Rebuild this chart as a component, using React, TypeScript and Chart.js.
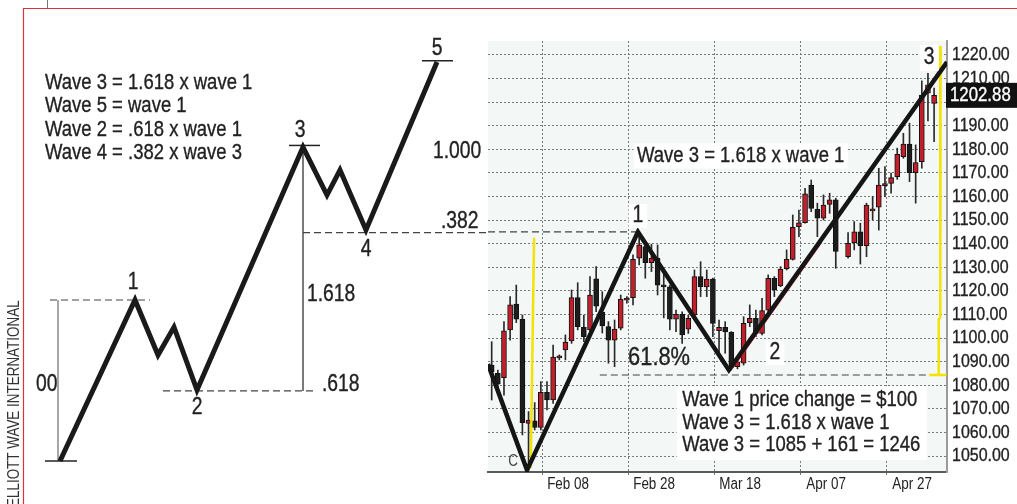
import React, { useEffect, useRef } from 'react';
import { Chart, registerables } from 'chart.js';

Chart.register(...registerables);

const SANS = "'Liberation Sans', Arial, Helvetica, sans-serif";
const SQUEEZE = 0.84; // condensed look of the original lettering

// ---------------- Left: idealised five-wave impulse (wave 1 = 100) ----------------
const idealTime = [60, 135, 158, 174, 197, 303, 327, 340, 366, 437];
const idealLevel = [0, 100, 65.8, 83.2, 44.1, 195, 165.2, 180.7, 143.5, 247.8];
const idealNames = ['', '1', '', '', '2', '3', '', '', '4', '5'];
const ratioRules = [
  'Wave 3 = 1.618 x wave 1',
  'Wave 5 = wave 1',
  'Wave 2 = .618 x wave 1',
  'Wave 4 = .382 x wave 3',
];
const ratioMarks = ['1.618', '.618', '00', '1.000', '.382'];

// ---------------- Right: daily candles (index = trading day) ----------------
const openPrices = [
  1088.6, 1085.1, 1083.3, 1103.5, 1114.4, 1108, 1063.9, 1065, 1062.2, 1077.1,
  1073.8, 1091.6, 1095, 1098.8, 1117.2, 1104.6, 1103.5, 1125.1, 1111.1, 1104.9,
  1099.2, 1104.2, 1116.1, 1117.2, 1133.9, 1138.8, 1132, 1133.9, 1122.5, 1121.8,
  1108, 1110.1, 1103.8, 1109.8, 1126.1, 1121.7, 1125, 1103.2, 1104.6, 1102.5,
  1087.9, 1089.4, 1106.6, 1108.4, 1102, 1111.9, 1125.4, 1122.1, 1129.4, 1133.4,
  1147.2, 1148.9, 1164.9, 1154.6, 1150.8, 1156.7, 1158.6, null, 1134.5, 1140.5,
  1145.1, 1139.2, 1153.9, 1155.5, 1164.6, 1165.6, 1168.4, 1176.9, 1182.2, 1170.1,
  1174.8, 1203.8, 1199.5,
];
const highPrices = [
  1098.5, 1086.5, 1107, 1117.6, 1122.5, 1109.8, 1068.9, 1072.7, 1081.6, 1081.6,
  1097.1, 1092.9, 1101.4, 1120.4, 1123.5, 1109.8, 1126.1, 1130.3, 1119.7, 1107,
  1107.7, 1118.3, 1117.6, 1135.3, 1145, 1140.9, 1139.8, 1139.5, 1127.6, 1122.5,
  1111.9, 1111.2, 1109.8, 1128.9, 1132.4, 1128.9, 1125.5, 1107.7, 1107, 1102.8,
  1091.6, 1109.1, 1114.1, 1111.9, 1116.9, 1126.8, 1126.1, 1130.3, 1137.4, 1152.2,
  1154.3, 1163.5, 1167, 1157.2, 1160.7, 1161.4, 1159.3, null, 1144.7, 1149.4,
  1148.7, 1157.2, 1160, 1172, 1172.7, 1169.9, 1180.5, 1186.8, 1191.1, 1181.9,
  1209, 1212.2, 1206,
];
const lowPrices = [
  1073.8, 1076.7, 1075.9, 1099.2, 1106.6, 1059, 1044.5, 1061.1, 1061.1, 1069.6,
  1072.4, 1090.8, 1090.8, 1097.8, 1103.5, 1098.5, 1102.8, 1111.2, 1102.2, 1089.4,
  1087.9, 1103.5, 1114.8, 1114.1, 1131, 1125.4, 1128.2, 1118.3, 1108.6, 1103.5,
  1102.8, 1097.8, 1102, 1108.6, 1117.6, 1117.6, 1100.6, 1093.6, 1093.6, 1086.5,
  1087, 1088.6, 1104.9, 1100.6, 1101.4, 1110.6, 1117.6, 1121.8, 1128.9, 1133.1,
  1143, 1148.7, 1153.6, 1143, 1150.1, 1152.9, 1129.6, null, 1133.9, 1137.4,
  1131.4, 1134.5, 1150.1, 1145.8, 1160, 1161.4, 1167.3, 1176.2, 1166.3, 1157.2,
  1172, 1192, 1183.3,
];
const closePrices = [
  1085.8, 1080.5, 1103.1, 1114.1, 1108, 1064.2, 1065.3, 1062.2, 1077.1, 1073.8,
  1092, 1092.5, 1098.3, 1117.2, 1104.9, 1100.6, 1118.3, 1113.6, 1105.2, 1099.2,
  1103.8, 1116.6, 1116.9, 1133.4, 1139.5, 1132, 1133.9, 1122.5, 1121.7, 1108,
  1110.1, 1101.4, 1108.4, 1126.1, 1121.8, 1125, 1106.3, 1104.6, 1102.6, 1087.9,
  1090, 1106.3, 1108.4, 1102, 1111.7, 1125.4, 1120.4, 1129.3, 1133.4, 1147,
  1148.9, 1161.1, 1155, 1150.8, 1156.4, 1158.6, 1136.7, null, 1140.2, 1145.1,
  1139.2, 1156.4, 1154.7, 1164.9, 1165.3, 1168, 1177.9, 1182.2, 1170.1, 1174.4,
  1203, 1207.3, 1202.88,
];
const lastPrice = 1202.88;

// wave count drawn on the candles: start, C, 1, 2, end of 3
const waveDay = [-0.6, 5.75, 23.8, 38.6, 74.1];
const wavePrice = [1089, 1044.1, 1145, 1086.5, 1217];
// thin red trend line under wave 3
const trendDay = [39.2, 53.5];
const trendPrice = [1087.3, 1140];
// yellow measuring lines
const yellowLeftDay = [6.9, 6.35];
const yellowLeftPrice = [1142.5, 1045];
const yellowRightDay = [73.05, 73.0, 72.75, 72.75];
const yellowRightPrice = [1223.8, 1109, 1108, 1084.4];
const yellowFootDay = [71.2, 74.0];
const wave1Top = 1145;
const retraceLevel = 1084.4;
const retraceFromDay = 17.6;
const retraceToDay = 71.2;

const xGridDays = [8.2, 22.2, 36.2, 50.2, 64.2];
const xTickLabels = ['Feb 08', 'Feb 28', 'Mar 18', 'Apr 07', 'Apr 27'];
const priceTicks = [1050, 1060, 1070, 1080, 1090, 1100, 1110, 1120, 1130, 1140, 1150, 1160, 1170, 1180, 1190, 1200, 1210, 1220];

const summaryLines = ['Wave 1 price change = $100', 'Wave 3 = 1.618 x wave 1', 'Wave 3 = 1085 + 161 = 1246'];
const headline = 'Wave 3 = 1.618 x wave 1';

const RED = '#c01f2b';

function text(ctx: CanvasRenderingContext2D, s: string, x: number, y: number, size: number, o: any = {}) {
  ctx.save();
  ctx.font = `${size}px ${SANS}`;
  ctx.textAlign = 'left';
  ctx.textBaseline = 'middle';
  const w = ctx.measureText(s).width * SQUEEZE;
  const left = o.align === 'center' ? x - w / 2 : o.align === 'right' ? x - w : x;
  if (o.box) {
    ctx.fillStyle = '#ffffff';
    ctx.fillRect(left - o.padX, y - o.boxH / 2, w + 2 * o.padX, o.boxH);
  }
  const color = o.color || '#222';
  ctx.fillStyle = color;
  ctx.translate(left, y);
  ctx.scale(SQUEEZE, 1);
  ctx.fillText(s, 0, 0);
  if (size >= 19) {
    ctx.strokeStyle = color;
    ctx.lineWidth = 0.35;
    ctx.strokeText(s, 0, 0);
  }
  ctx.restore();
}

const pts = (xs: number[], ys: number[]) => xs.map((x, i) => ({ x, y: ys[i] }));

function leftConfig(): any {
  const seg = (data: any[], color: string, width: number, dash: number[] = []) => ({
    data, showLine: true, borderColor: color, borderWidth: width, borderDash: dash,
    pointRadius: 0, fill: false, tension: 0, borderJoinStyle: 'miter', borderCapStyle: 'butt',
  });
  const lv = idealLevel;
  const t = idealTime;
  const decor = {
    id: 'leftDecor',
    beforeDraw(chart: any) {
      const { ctx, width, height } = chart;
      ctx.save();
      ctx.fillStyle = '#ffffff';
      ctx.fillRect(0, 0, width, height);
      ctx.restore();
    },
    afterDraw(chart: any) {
      const { ctx } = chart;
      const X = (v: number) => chart.scales.x.getPixelForValue(v);
      const Y = (v: number) => chart.scales.y.getPixelForValue(v);
      ctx.save();
      ctx.strokeStyle = '#d8353a';
      ctx.lineWidth = 1.2;
      ctx.beginPath();
      ctx.moveTo(23.5, 504);
      ctx.lineTo(23.5, 8.5);
      ctx.lineTo(1017, 8.5);
      ctx.stroke();
      ctx.strokeStyle = '#777';
      ctx.lineWidth = 1;
      ctx.beginPath();
      ctx.moveTo(47.5, 0);
      ctx.lineTo(47.5, 8);
      ctx.stroke();
      ctx.translate(15, 507);
      ctx.rotate(-Math.PI / 2);
      text(ctx, 'ELLIOTT WAVE INTERNATIONAL', 0, 0, 16, { color: '#333' });
      ctx.restore();

      ratioRules.forEach((s, i) => text(ctx, s, 45, Y(234.8) + i * 23.4, 22));
      const nameOffset = [0, -17, 0, 0, 18, -16, 0, 0, 20, -13];
      const nameShift = [0, -2, 0, 0, 0, -3, 0, 0, 0, 0];
      idealNames.forEach((s, i) => {
        if (s) text(ctx, s, X(t[i]) + nameShift[i], Y(lv[i]) + nameOffset[i], 23, { align: 'center' });
      });
      const markPos = [
        [307, 103.1], [322, 47.2], [36, 47.2], [433, 191.9], [441, 148.4],
      ];
      ratioMarks.forEach((s, i) => text(ctx, s, X(markPos[i][0]), Y(markPos[i][1]), 23));
    },
  };
  return {
    type: 'scatter',
    data: {
      datasets: [
        seg(pts(t, lv), '#1a1a1a', 5),
        seg(pts([45, 77], [0, 0]), '#222', 1.5),
        seg(pts([289, 320], [196, 196]), '#222', 1.5),
        seg(pts([422, 453], [248.6, 248.6]), '#222', 1.5),
        seg(pts([50, 150], [lv[1], lv[1]]), '#444', 1.2, [7, 4]),
        seg(pts([163, 315], [43.5, 43.5]), '#444', 1.2, [7, 4]),
        seg(pts([303, 488], [141.8, 141.8]), '#444', 1.2, [7, 4]),
        seg(pts([58, 58], [lv[0], lv[1]]), '#8a8a8a', 1.5),
        seg(pts([303, 303], [43.5, lv[5]]), '#222', 1.2),
      ],
    },
    options: {
      responsive: false,
      animation: false,
      devicePixelRatio: 1,
      events: [],
      layout: { padding: 0 },
      plugins: { legend: { display: false }, tooltip: { enabled: false } },
      scales: {
        x: { type: 'linear', display: false, min: 0, max: 1017 },
        y: { type: 'linear', display: false, min: -26.71, max: 286.34 },
      },
    },
    plugins: [decor],
  };
}

function rightConfig(): any {
  const candles = openPrices
    .map((o, i) => (o == null ? null : { x: i, o, h: highPrices[i] as number, l: lowPrices[i] as number, c: closePrices[i] as number }))
    .filter(Boolean) as any[];
  const line = (data: any[], color: string, width: number, order: number, dash: number[] = []) => ({
    type: 'line', data, borderColor: color, borderWidth: width, borderDash: dash, order,
    pointRadius: 0, fill: false, tension: 0, borderJoinStyle: 'miter', borderCapStyle: 'butt',
  });
  const decor = {
    id: 'rightDecor',
    beforeDraw(chart: any) {
      const { ctx, chartArea: a } = chart;
      ctx.save();
      ctx.fillStyle = '#f3f7f5';
      ctx.fillRect(a.left, a.top, a.right - a.left, a.bottom - a.top);
      ctx.restore();
    },
    afterDraw(chart: any) {
      const { ctx, chartArea: a, width } = chart;
      const xs = chart.scales.x;
      const ys = chart.scales.y;
      const X = (v: number) => xs.getPixelForValue(v);
      const Y = (v: number) => ys.getPixelForValue(v);
      // axis labels
      ys.ticks.forEach((tk: any) => text(ctx, Number(tk.value).toFixed(2), a.right + 5, Y(tk.value), 19));
      xs.ticks.forEach((tk: any, i: number) => text(ctx, xTickLabels[i], X(tk.value) + 26, a.bottom + 13, 16, { align: 'center' }));
      // wave labels
      text(ctx, '1', X(waveDay[2]), Y(1151.8), 23, { align: 'center', box: true, padX: 4, boxH: 24 });
      text(ctx, '2', X(46.1), Y(1093.7), 23, { align: 'center', box: true, padX: 4, boxH: 24 });
      text(ctx, '3', X(71.2), Y(1218.7), 23, { align: 'center', box: true, padX: 4, boxH: 26 });
      text(ctx, 'C', X(3.47), Y(1047.5), 16, { align: 'center', color: '#444' });
      text(ctx, '61.8%', X(22.2), Y(1091.6), 26, {});
      text(ctx, headline, X(23.66), Y(1177.2), 22, { box: true, padX: 3.5, boxH: 25 });
      // summary box
      const bx = X(30.1), by = Y(1079.7);
      ctx.save();
      ctx.fillStyle = '#ffffff';
      ctx.fillRect(bx, by, X(70.8) - bx, Y(1048.4) - by);
      ctx.restore();
      const rows = [1073.8, 1064.2, 1054.7];
      summaryLines.forEach((s, i) => text(ctx, s, X(31.0), Y(rows[i]), 22));
      // last price tag
      const ty = Y(lastPrice);
      ctx.save();
      ctx.fillStyle = '#111';
      ctx.fillRect(a.right - 1, ty - 12.5, width - a.right + 1, 25);
      ctx.restore();
      text(ctx, lastPrice.toFixed(2), a.right + 3, ty, 20, { color: '#ffffff' });
    },
  };
  return {
    type: 'bar',
    data: {
      datasets: [
        line(pts(waveDay, wavePrice), '#151515', 4.5, 0),
        line(pts(trendDay, trendPrice), '#d42533', 1.4, 1),
        line(pts(yellowLeftDay, yellowLeftPrice), '#f2e400', 2.5, 2),
        line(pts(yellowRightDay, yellowRightPrice), '#f2e400', 2.5, 2),
        line(pts(yellowFootDay, [retraceLevel, retraceLevel]), '#f2e400', 2.5, 2),
        line(pts([-0.6, waveDay[2]], [wave1Top, wave1Top]), '#444', 1.2, 3, [7, 4]),
        line(pts([retraceFromDay, retraceToDay], [retraceLevel, retraceLevel]), '#444', 1.2, 3, [7, 4]),
        {
          type: 'bar',
          data: candles.map((k) => ({ x: k.x, y: [Math.min(k.o, k.c), Math.max(k.o, k.c)] })),
          backgroundColor: candles.map((k) => (k.c >= k.o ? RED : '#1d1d1d')),
          borderColor: '#111',
          borderWidth: 1,
          borderSkipped: false,
          barThickness: 5,
          minBarLength: 2,
          grouped: false,
          order: 10,
        },
        {
          type: 'bar',
          data: candles.map((k) => ({ x: k.x, y: [k.l, k.h] })),
          backgroundColor: '#2a2a2a',
          borderWidth: 0,
          barThickness: 1,
          grouped: false,
          order: 20,
        },
      ],
    },
    options: {
      responsive: false,
      animation: false,
      devicePixelRatio: 1,
      events: [],
      layout: { padding: { left: 8, top: 41, right: 0, bottom: 0 } },
      plugins: { legend: { display: false }, tooltip: { enabled: false } },
      scales: {
        x: {
          type: 'linear', min: -0.6, max: 74.1, offset: false,
          afterBuildTicks: (s: any) => { s.ticks = xGridDays.map((v) => ({ value: v })); },
          afterFit: (s: any) => { s.height = 32; },
          grid: { color: '#7a7a7a', lineWidth: 1, offset: false, drawTicks: true, tickLength: 4, tickColor: '#7a7a7a', tickBorderDash: [2, 2] },
          border: { display: true, color: '#5a5a5a', width: 2, dash: [2, 2] },
          ticks: { display: false, autoSkip: false, maxRotation: 0 },
        },
        y: {
          type: 'linear', position: 'right', min: 1043.3, max: 1225.9, beginAtZero: false,
          afterBuildTicks: (s: any) => { s.ticks = priceTicks.map((v) => ({ value: v })); },
          afterFit: (s: any) => { s.width = 70; },
          grid: { color: '#7a7a7a', lineWidth: 1, drawTicks: false },
          border: { display: true, color: '#9a9a9a', width: 2, dash: [2, 2] },
          ticks: { display: false },
        },
      },
    },
    plugins: [decor],
  };
}

export default function App() {
  const leftRef = useRef<HTMLCanvasElement>(null);
  const rightRef = useRef<HTMLCanvasElement>(null);
  useEffect(() => {
    const l = new Chart(leftRef.current as HTMLCanvasElement, leftConfig());
    const r = new Chart(rightRef.current as HTMLCanvasElement, rightConfig());
    return () => {
      l.destroy();
      r.destroy();
    };
  }, []);
  return (
    <div style={{ position: 'absolute', left: 0, top: 0, width: 1017, height: 504, overflow: 'hidden' }}>
      <canvas ref={leftRef} width={1017} height={504} style={{ position: 'absolute', left: 0, top: 0, display: 'block' }} />
      <canvas ref={rightRef} width={537} height={504} style={{ position: 'absolute', left: 480, top: 0, display: 'block' }} />
    </div>
  );
}
